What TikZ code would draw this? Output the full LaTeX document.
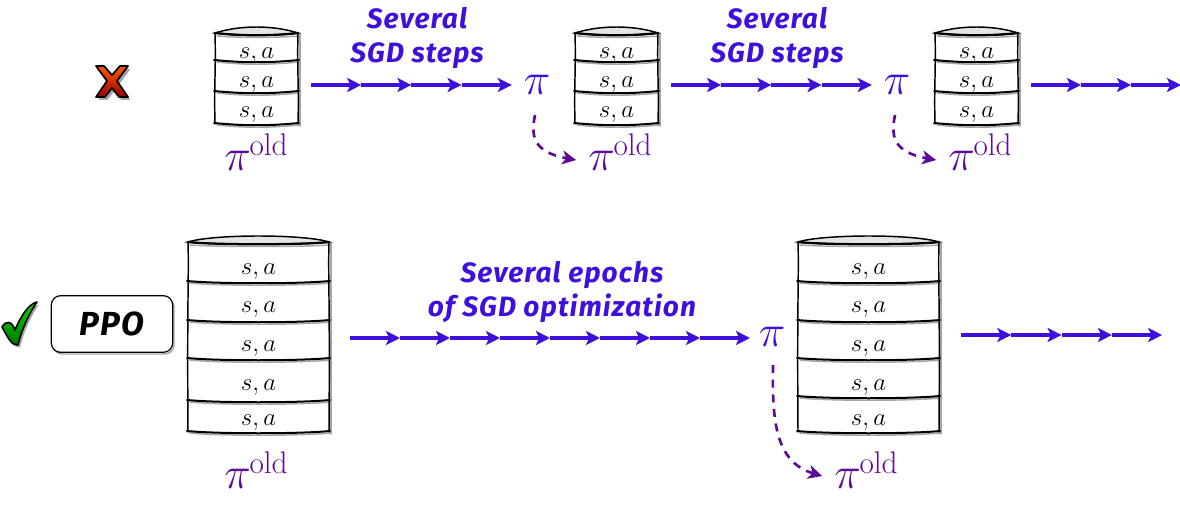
\documentclass[tikz,border=0pt]{standalone}
\usepackage{fontspec}
\usepackage{graphicx}
\newfontfamily\handfont[LetterSpace=4]{Fira Sans}
\usetikzlibrary{arrows.meta}
\definecolor{arrowblue}{HTML}{3F10DC}
\definecolor{oldpurple}{HTML}{5E0C98}
\tikzset{
  x=0.75pt,y=-0.75pt,
  flowarrow/.style={draw=arrowblue,line width=2.3pt,-{Stealth[length=10.5pt,width=10.5pt,inset=2.5pt]}},
  dasharrow/.style={draw=oldpurple,line width=2pt,dash pattern=on 6pt off 5pt,-{Stealth[length=10.5pt,width=10.5pt,inset=3pt]}},
  handlabel/.style={text=arrowblue,font=\handfont\bfseries\itshape\fontsize{21}{25}\selectfont,align=center,inner sep=0pt},
  pinode/.style={text=arrowblue,font=\fontsize{24.88}{28}\selectfont,inner sep=0pt},
  oldnode/.style={text=oldpurple,font=\fontsize{24.88}{28}\selectfont,inner sep=0pt},
  cellnode/.style={font=\fontsize{17.28}{20}\selectfont,inner sep=0pt,text=black},
  sketchline/.style={draw=black,line width=1.1pt,line cap=round},
  ghostline/.style={draw=black!35,line width=1.1pt,line cap=round},
}
\newcommand{\bigpi}{\scalebox{1.35}{$\pi$}}
\newcommand{\pold}{\bigpi\kern-1pt\raisebox{11.5pt}{\scalebox{1.13}{\fontsize{20.74}{24}\selectfont old}}}
\makeatletter
\newcommand{\lastbottom}[1]{\expandafter\lastb@\romannumeral-`0#1,\@nil}
\def\lastb@#1,#2\@nil{\ifx\relax#2\relax #1\else\lastb@#2\@nil\fi}
\makeatother
% name, x-left, x-right, y-top, dividers, cell text y
\newcommand{\barrel}[6]{%
  \draw[ghostline] (#2+2,#4+9) .. controls (#2+30,#4+11) and (#3-30,#4+11) .. (#3+1,#4+9);
  \draw[ghostline] (#3+2,#4+7) -- (#3+2,\lastbottom{#5}+1);
  \draw[sketchline,fill=black!10] (#2,#4+6) .. controls (#2+25,#4-2) and (#3-25,#4-2) .. (#3,#4+6)
     .. controls (#3-25,#4+9) and (#2+25,#4+9) .. cycle;
  \draw[sketchline,line width=1.7pt] (#3,#4+6) .. controls (#3-25,#4+9) and (#2+25,#4+9) .. (#2,#4+6);
  \foreach \dy in {#5}{
    \draw[ghostline] (#2+2,\dy+0) .. controls (#2+30,\dy+3) and (#3-30,\dy+3) .. (#3+2,\dy+0);
    \draw[sketchline,line width=1.5pt] (#2-1,\dy-2) .. controls (#2+30,\dy+1) and (#3-30,\dy+1) .. (#3+1,\dy-2);
  }
  \draw[sketchline] (#2,#4+6) .. controls (#2+1,#4+40) and (#2-1,#4+60) .. (#2,\lastbottom{#5}-1);
  \draw[sketchline] (#3,#4+6) .. controls (#3-1,#4+40) and (#3+1,#4+60) .. (#3,\lastbottom{#5}-1);
  \foreach \ty [count=\ti] in {#6}{
    \node[cellnode] (#1-\ti) at ({(#2+#3)/2},\ty+4) {\scalebox{1.08}{$s,a$}};
  }
}
\newcommand{\chain}[5]{% name, y, x start, step, count
  \foreach \k in {0,...,#5}{
    \coordinate (#1-\k) at ({#3+\k*#4},#2);
  }
  \foreach \k in {1,...,#5}{
    \pgfmathtruncatemacro{\prv}{\k-1}
    \draw[flowarrow] (#1-\prv) -- (#1-\k);
  }
}
\begin{document}
\begin{tikzpicture}
\useasboundingbox (0,0) rectangle (1180,527);
% cross
\begin{scope}[shift={(112,81)}]
  \path[fill=black!35,shift={(2.5,3)}] (-16,-15) -- (-8,-15) -- (0,-6) -- (8,-15) -- (16,-15) -- (5,0) -- (16,16) -- (7,16) -- (0,7) -- (-7,16) -- (-16,16) -- (-5,0) -- cycle;
  \path[draw=black,line width=1.3pt,line join=round,top color=orange!70!red,bottom color=red!60!black] (-16,-15) -- (-8,-15) -- (0,-6) -- (8,-15) -- (16,-15) -- (5,0) -- (16,16) -- (7,16) -- (0,7) -- (-7,16) -- (-16,16) -- (-5,0) -- cycle;
\end{scope}
% check
\begin{scope}
  \path[fill=black!35,shift={(2,2.5)}] (2,327) .. controls (6,320) and (12,321) .. (15,330) .. controls (20,318) and (28,304) .. (37,302) .. controls (28,315) and (21,332) .. (18,345) .. controls (12,346) and (8,338) .. (2,327) -- cycle;
  \path[draw=black,line width=1.2pt,line join=round,top color=green!85!black,bottom color=green!45!black] (2,327) .. controls (6,320) and (12,321) .. (15,330) .. controls (20,318) and (28,304) .. (37,302) .. controls (28,315) and (21,332) .. (18,345) .. controls (12,346) and (8,338) .. (2,327) -- cycle;
\end{scope}
% PPO
\draw[ghostline,rounded corners=7pt] (53,298) rectangle (174,354);
\node[draw=black,line width=0.9pt,rounded corners=7pt,fill=white,minimum width=91pt,minimum height=42.5pt,inner sep=0pt,font=\handfont\bfseries\itshape\fontsize{25}{28}\selectfont] (ppo) at (112,324) {PPO};
% barrels
\barrel{b}{215}{298}{27}{62,93,125}{52,81,111}
\barrel{c}{575}{658}{27}{62,93,125}{52,81,111}
\barrel{d}{935}{1018}{27}{62,93,125}{52,81,111}
\barrel{e}{188}{329}{236}{283,322,360,402,433}{268,306,345,384,419}
\barrel{f}{798}{939}{236}{283,322,360,398,433}{268,306,345,384,419}
% labels
\node[handlabel] (l1) at (417,38) {Several\\SGD steps};
\node[handlabel] (l2) at (777,38) {Several\\SGD steps};
\node[handlabel] (l3) at (562,292) {Several epochs\\of SGD optimization};
% pi nodes
\node[pinode] (p1) at (537,85) {\bigpi};
\node[pinode] (p2) at (897,85) {\bigpi};
\node[pinode] (p3) at (772,337) {\bigpi};
% old nodes
\node[oldnode] (o0) at (256,152) {\pold};
\node[oldnode] (o1) at (620,152) {\pold};
\node[oldnode] (o2) at (980,152) {\pold};
\node[oldnode] (o3) at (256,470) {\pold};
\node[oldnode] (o4) at (866,470) {\pold};
% arrows
\chain{ca}{85}{311}{50.2}{4}
\chain{cb}{85}{671}{50.2}{4}
\chain{cc}{85}{1031}{50}{3}
\chain{cd}{338}{350}{50}{8}
\chain{ce}{335}{961}{50.3}{4}
% dashed
\coordinate (s1) at ([shift={(-2,30)}]p1.center);
\coordinate (s2) at ([shift={(-2,30)}]p2.center);
\coordinate (s3) at ([shift={(1,28)}]p3.center);
\coordinate (t1) at ([shift={(-12,8)}]o1.west);
\coordinate (t2) at ([shift={(-12,8)}]o2.west);
\coordinate (t4) at ([shift={(-12,6)}]o4.west);
\draw[dasharrow] (s1) .. controls (531,135) and (532,152) .. (t1);
\draw[dasharrow] (s2) .. controls (891,135) and (892,152) .. (t2);
\draw[dasharrow] (s3) .. controls (772,420) and (775,462) .. (t4);
\end{tikzpicture}
\end{document}
